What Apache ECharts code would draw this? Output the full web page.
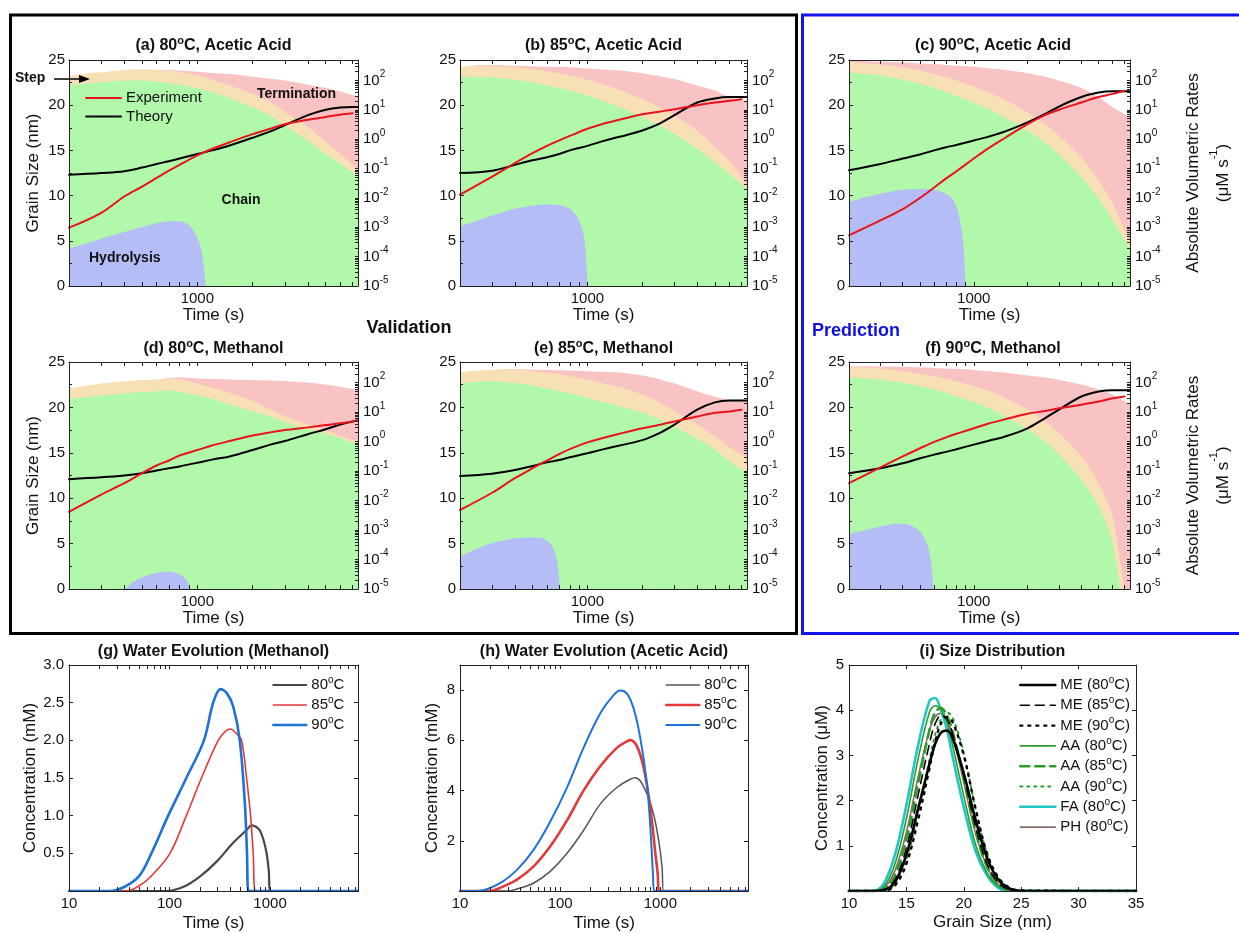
<!DOCTYPE html>
<html><head><meta charset="utf-8">
<script src="https://cdn.jsdelivr.net/npm/echarts@6/dist/echarts.min.js"></script>
<style>html,body{margin:0;padding:0;background:#fff}#c{width:1239px;height:933px}</style>
</head><body><div id="c"></div>
<script>
const FONT = '"Liberation Sans", Arial, Helvetica, sans-serif';
const C_PINK = '#f9c3c3', C_BEIGE = '#f7e0b6', C_GREEN = '#b1f8aa', C_BLUE = '#b5bdf6';
const C_RED = '#e8131b';

// ---------- time grids (s) ----------
const regionTime = [200, 250, 300, 400, 500, 600, 700, 800, 1000, 1200, 1500, 2000, 2500, 3000, 4000, 5000, 6000, 7500];
const lineTime = [200, 300, 400, 500, 600, 700, 800, 1000, 1200, 1500, 2000, 2500, 3000, 4000, 5000, 6000, 7000, 7500];

// ---------- (a) 80C acetic acid : rates as log10(uM/s) ----------
const aTerm  = [1.9, 2.1, 2.22, 2.35, 2.38, 2.37, 2.36, 2.34, 2.3, 2.26, 2.22, 2.13, 2.06, 2.0, 1.86, 1.75, 1.63, 1.46];
const aStep  = [2.17, 2.24, 2.28, 2.36, 2.37, 2.36, 2.33, 2.28, 2.17, 2.02, 1.83, 1.54, 1.26, 0.92, 0.42, -0.08, -0.5, -1.01];
const aChain = [1.85, 1.9, 1.94, 2.0, 2.0, 1.96, 1.92, 1.86, 1.75, 1.6, 1.4, 1.09, 0.8, 0.46, -0.05, -0.5, -0.84, -1.24];
const aHydT  = [200, 300, 400, 500, 600, 700, 800, 880, 950, 1030, 1080, 1120];
const aHyd   = [-3.73, -3.39, -3.16, -2.99, -2.86, -2.79, -2.79, -2.88, -3.1, -3.56, -4.24, -5.3];
const aExp    = [6.45, 8.1, 9.9, 11.0, 11.95, 12.75, 13.4, 14.45, 15.15, 15.9, 16.8, 17.4, 17.9, 18.4, 18.7, 18.95, 19.1, null];
const aTheory = [12.3, 12.5, 12.7, 13.1, 13.5, 13.8, 14.1, 14.6, 15.0, 15.55, 16.4, 17.1, 17.8, 18.9, 19.5, 19.75, 19.8, 19.8];

// ---------- (b) 85C acetic acid ----------
const bTerm  = [2.3, 2.53, 2.53, 2.5, 2.48, 2.47, 2.46, 2.45, 2.41, 2.38, 2.34, 2.25, 2.15, 2.05, 1.83, 1.66, 1.43, 1.3];
const bStep  = [2.45, 2.5, 2.5, 2.45, 2.39, 2.31, 2.24, 2.17, 2.03, 1.88, 1.68, 1.37, 1.07, 0.8, 0.29, -0.27, -0.73, -1.55];
const bChain = [2.11, 2.13, 2.11, 2.03, 1.94, 1.83, 1.75, 1.66, 1.49, 1.32, 1.09, 0.75, 0.46, 0.18, -0.33, -0.78, -1.18, -1.69];
const bHydT  = [200, 250, 300, 400, 500, 600, 700, 800, 880, 950, 985, 1005];
const bHyd   = [-2.97, -2.77, -2.6, -2.37, -2.26, -2.22, -2.25, -2.37, -2.65, -3.22, -4.13, -5.3];
const bExp    = [10.1, 12.1, 13.6, 14.7, 15.5, 16.1, 16.6, 17.4, 17.9, 18.4, 19.0, 19.3, 19.55, 20.0, 20.3, 20.5, 20.65, null];
const bTheory = [12.5, 12.75, 13.4, 13.9, 14.25, 14.6, 15.0, 15.5, 16.0, 16.5, 17.2, 18.0, 18.9, 20.3, 20.75, 20.9, 20.9, 20.9];

// ---------- (c) 90C acetic acid ----------
const cTerm  = [2.68, 2.66, 2.64, 2.62, 2.58, 2.56, 2.53, 2.5, 2.47, 2.42, 2.36, 2.25, 2.13, 2.0, 1.75, 1.43, 1.09, 0.75];
const cStep  = [2.64, 2.58, 2.54, 2.45, 2.34, 2.22, 2.11, 2.0, 1.79, 1.6, 1.34, 0.92, 0.52, 0.12, -0.61, -1.4, -2.2, -3.5];
const cChain = [2.28, 2.22, 2.17, 2.03, 1.88, 1.75, 1.6, 1.47, 1.24, 1.03, 0.73, 0.29, -0.1, -0.52, -1.29, -2.03, -2.77, -3.73];
const cHydT  = [200, 250, 300, 400, 500, 600, 700, 770, 820, 870, 905];
const cHyd   = [-2.14, -1.97, -1.86, -1.72, -1.7, -1.72, -1.86, -2.09, -2.54, -3.45, -5.3];
const cExp    = [5.6, 7.25, 8.5, 9.75, 10.9, 11.9, 12.7, 14.1, 15.2, 16.4, 17.9, 18.9, 19.5, 20.3, 20.9, 21.25, 21.6, null];
const cTheory = [12.8, 13.5, 14.1, 14.55, 15.0, 15.35, 15.6, 16.1, 16.5, 17.1, 18.1, 19.0, 19.85, 20.9, 21.4, 21.55, 21.55, 21.55];

// ---------- (d) 80C methanol ----------
const dTerm  = [1.5, 1.6, 1.7, 1.85, 1.98, 2.08, 2.16, 2.17, 2.14, 2.12, 2.11, 2.09, 2.07, 2.05, 2.0, 1.94, 1.86, 1.75];
const dStep  = [1.8, 1.9, 1.97, 2.05, 2.09, 2.11, 2.14, 2.12, 1.97, 1.83, 1.66, 1.37, 1.09, 0.86, 0.58, 0.39, 0.18, 0.01];
const dChain = [1.45, 1.51, 1.56, 1.63, 1.68, 1.71, 1.73, 1.69, 1.56, 1.45, 1.26, 1.03, 0.84, 0.66, 0.43, 0.27, 0.12, -0.1];
const dHydT  = [390, 450, 550, 680, 800, 870, 910, 930];
const dHyd   = [-5.1, -4.75, -4.52, -4.41, -4.5, -4.69, -4.95, -5.3];
const dExp    = [8.5, 10.4, 11.65, 12.75, 13.6, 14.15, 14.7, 15.3, 15.8, 16.3, 16.9, 17.25, 17.5, 17.8, 18.05, 18.25, 18.45, 18.55];
const dTheory = [12.1, 12.3, 12.5, 12.75, 13.05, 13.3, 13.5, 13.9, 14.25, 14.6, 15.3, 15.9, 16.3, 17.05, 17.6, 18.1, 18.45, 18.6];

// ---------- (e) 85C methanol ----------
const eTerm  = [2.2, 2.35, 2.42, 2.46, 2.44, 2.43, 2.42, 2.41, 2.39, 2.37, 2.34, 2.24, 2.11, 1.97, 1.71, 1.52, 1.41, 1.37];
const eStep  = [2.34, 2.41, 2.44, 2.45, 2.39, 2.34, 2.29, 2.22, 2.11, 1.99, 1.85, 1.6, 1.32, 1.03, 0.58, 0.18, -0.18, -0.56];
const eChain = [1.97, 2.03, 2.05, 1.99, 1.9, 1.8, 1.72, 1.63, 1.49, 1.35, 1.2, 0.98, 0.75, 0.5, 0.1, -0.27, -0.67, -1.07];
const eHydT  = [200, 250, 300, 400, 500, 560, 610, 650, 685, 712];
const eHyd   = [-3.9, -3.62, -3.45, -3.28, -3.25, -3.27, -3.39, -3.62, -4.13, -5.3];
const eExp    = [8.7, 10.6, 12.2, 13.3, 14.15, 14.85, 15.4, 16.15, 16.6, 17.1, 17.7, 18.1, 18.45, 19.0, 19.4, 19.55, 19.75, null];
const eTheory = [12.45, 12.7, 13.1, 13.55, 13.95, 14.2, 14.5, 14.95, 15.35, 15.8, 16.4, 17.2, 18.1, 19.75, 20.55, 20.75, 20.75, 20.75];

// ---------- (f) 90C methanol ----------
const fTerm  = [2.56, 2.56, 2.55, 2.54, 2.52, 2.5, 2.48, 2.47, 2.43, 2.39, 2.34, 2.24, 2.17, 2.09, 1.94, 1.77, 1.6, 1.26];
const fStep  = [2.54, 2.51, 2.47, 2.39, 2.3, 2.22, 2.13, 2.05, 1.88, 1.73, 1.49, 1.09, 0.69, 0.29, -0.5, -1.41, -2.54, -6.5];
const fChain = [2.17, 2.13, 2.09, 2.0, 1.88, 1.77, 1.66, 1.54, 1.34, 1.15, 0.86, 0.43, 0.01, -0.44, -1.29, -2.2, -3.45, -7.5];
const fHydT  = [200, 250, 300, 350, 400, 450, 500, 545, 575, 600];
const fHyd   = [-3.13, -2.99, -2.88, -2.8, -2.79, -2.86, -3.05, -3.45, -4.01, -5.3];
const fExp    = [11.65, 13.4, 14.6, 15.5, 16.2, 16.7, 17.1, 17.7, 18.2, 18.7, 19.3, 19.6, 19.9, 20.3, 20.65, 21.0, 21.2, null];
const fTheory = [12.75, 13.3, 13.85, 14.4, 14.8, 15.1, 15.4, 15.9, 16.3, 16.8, 17.7, 18.8, 19.75, 21.2, 21.75, 21.9, 21.9, 21.9];

// ---------- (g) water evolution, methanol (mM) ----------
const g80T = [10, 93, 140, 200, 294, 430, 585, 657, 730, 795, 860, 925, 970, 1010, 7500];
const g80V = [0, 0, 0.06, 0.19, 0.39, 0.64, 0.81, 0.87, 0.85, 0.8, 0.68, 0.5, 0.28, 0, 0];
const g85T = [10, 37, 50, 66, 101, 147, 208, 305, 360, 405, 470, 522, 584, 640, 680, 720, 7500];
const g85V = [0, 0, 0.07, 0.2, 0.5, 1.0, 1.5, 2.0, 2.12, 2.15, 2.08, 2.0, 1.5, 1.0, 0.5, 0, 0];
const g90T = [10, 25, 35, 50, 66, 97, 147, 220, 272, 322, 370, 430, 500, 564, 590, 612, 7500];
const g90V = [0, 0, 0.05, 0.2, 0.5, 1.0, 1.5, 2.0, 2.5, 2.68, 2.63, 2.45, 2.0, 1.12, 0.5, 0, 0];

// ---------- (h) water evolution, acetic acid (mM) ----------
const h80T = [10, 30, 37, 54, 79, 117, 171, 251, 368, 500, 560, 631, 736, 855, 962, 1040, 1080, 7500];
const h80V = [0, 0, 0.08, 0.31, 0.77, 1.5, 2.41, 3.46, 4.12, 4.45, 4.51, 4.38, 3.86, 3.07, 2.02, 0.97, 0, 0];
const h85T = [10, 20, 25, 37, 54, 79, 117, 171, 251, 368, 464, 500, 585, 681, 794, 892, 940, 975, 7500];
const h85V = [0, 0, 0.12, 0.45, 0.97, 1.76, 2.81, 4.0, 4.97, 5.7, 5.96, 6.01, 5.76, 4.91, 3.33, 1.5, 0.71, 0, 0];
const h90T = [10, 15, 25, 37, 54, 79, 117, 171, 251, 342, 398, 464, 541, 631, 736, 794, 843, 869, 7500];
const h90V = [0, 0, 0.31, 0.84, 1.63, 2.74, 4.12, 5.7, 7.07, 7.8, 7.98, 7.86, 7.27, 6.09, 4.25, 2.55, 0.71, 0, 0];

// ---------- (i) size distribution (uM) ----------
const sizeX = [10, 12, 13, 14, 15, 16, 17, 17.5, 18, 18.5, 19, 20, 21, 22, 23, 24, 25, 35];
const me80 = [0, 0, 0.02, 0.2, 0.8, 1.8, 2.8, 3.25, 3.5, 3.55, 3.4, 2.6, 1.6, 0.75, 0.25, 0.05, 0, 0];
const me85 = [0, 0, 0.02, 0.25, 0.95, 2.1, 3.25, 3.7, 3.88, 3.82, 3.5, 2.55, 1.45, 0.62, 0.18, 0.03, 0, 0];
const me90 = [0, 0, 0, 0.12, 0.6, 1.55, 2.7, 3.3, 3.7, 3.85, 3.75, 3.0, 1.85, 0.85, 0.3, 0.07, 0.01, 0];
const aa80 = [0, 0, 0.08, 0.6, 1.6, 2.9, 3.95, 4.1, 4.02, 3.75, 3.25, 2.1, 1.05, 0.42, 0.1, 0.01, 0, 0];
const aa85 = [0, 0, 0.03, 0.35, 1.15, 2.35, 3.55, 3.95, 4.05, 3.9, 3.55, 2.5, 1.35, 0.55, 0.15, 0.02, 0, 0];
const aa90 = [0, 0, 0.01, 0.15, 0.7, 1.7, 2.9, 3.45, 3.8, 3.95, 3.85, 3.05, 1.85, 0.85, 0.3, 0.06, 0.01, 0];
const fa80 = [0, 0, 0.15, 0.8, 1.9, 3.2, 4.2, 4.27, 4.0, 3.6, 3.0, 1.85, 0.9, 0.35, 0.07, 0, 0, 0];
const ph80 = [0, 0, 0.05, 0.45, 1.3, 2.5, 3.55, 3.85, 3.93, 3.8, 3.45, 2.4, 1.3, 0.55, 0.15, 0.02, 0, 0];

// ---------- tick values ----------
const timeTickMarks = [300, 400, 500, 600, 700, 800, 900, 1000, 2000, 3000, 4000, 5000, 6000, 7000];
const timeLabels = [1000];
const waterTickMarks = [20, 30, 40, 50, 60, 70, 80, 90, 100, 200, 300, 400, 500, 600, 700, 800, 900, 1000, 2000, 3000, 4000, 5000, 6000, 7000];
const waterLabels = [10, 100, 1000];
const rateExponents = [-5, -4, -3, -2, -1, 0, 1, 2];

// ---------- labels ----------
const LBL = {
  aExp: 'Experiment', aTheory: 'Theory',
  g80: '80{s|o}C', g85: '85{s|o}C', g90: '90{s|o}C',
  h80: '80{s|o}C', h85: '85{s|o}C', h90: '90{s|o}C',
  ME80: 'ME (80{s|o}C)', ME85: 'ME (85{s|o}C)', ME90: 'ME (90{s|o}C)',
  AA80: 'AA (80{s|o}C)', AA85: 'AA (85{s|o}C)', AA90: 'AA (90{s|o}C)',
  FA80: 'FA (80{s|o}C)', PH80: 'PH (80{s|o}C)'
};

// ================= build option =================
const grid = [], xAxis = [], yAxis = [], series = [], title = [], legend = [];
const AXC = '#222', TXC = '#111';
const zip = (ts, vs) => ts.map((t, i) => [t, vs[i]]).filter(p => p[1] !== null && p[1] !== undefined);
const L10 = v => Math.log10(v);

function axLine() { return { show: true, onZero: false, lineStyle: { color: AXC, width: 1 } }; }
function tickStyle(extra) { return Object.assign({ show: true, inside: true, length: 4, lineStyle: { color: AXC, width: 1 } }, extra || {}); }
function lblStyle(extra) { return Object.assign({ fontSize: 15, color: TXC, fontFamily: FONT }, extra || {}); }
const nameStyle = () => ({ fontSize: 17, color: TXC, fontFamily: FONT });

function addLogTimeAxes(gi, lo, hi, marks, labels, nameGap) {
  const dataIdx = xAxis.length;
  xAxis.push({ type: 'log', gridIndex: gi, min: lo, max: hi, show: false });
  const base = () => ({
    type: 'value', gridIndex: gi, min: L10(lo), max: L10(hi), z: 10, splitLine: { show: false },
    axisLine: axLine(), axisTick: tickStyle({ customValues: marks.map(L10) })
  });
  xAxis.push(Object.assign(base(), {
    position: 'bottom',
    axisLabel: lblStyle({ customValues: labels.map(L10), formatter: v => String(Math.round(Math.pow(10, v))), margin: 5 }),
    name: 'Time (s)', nameLocation: 'middle', nameGap: nameGap, nameTextStyle: nameStyle()
  }));
  xAxis.push(Object.assign(base(), { position: 'top', axisLabel: { show: false } }));
  return dataIdx;
}

function titleOf(text, cx, top) {
  return {
    text: text, left: cx, top: top, textAlign: 'center', padding: 0,
    textStyle: {
      fontSize: 16, fontWeight: 'bold', color: TXC, fontFamily: FONT, lineHeight: 22,
      rich: { s: { fontSize: 11, fontWeight: 'bold', color: TXC, fontFamily: FONT, verticalAlign: 'top' } }
    }
  };
}

function areaSeries(xi, yi, ts, vs, color, z) {
  series.push({
    type: 'line', xAxisIndex: xi, yAxisIndex: yi, data: zip(ts, vs), smooth: 0.3,
    symbol: 'none', silent: true, z: z, lineStyle: { width: 0 }, areaStyle: { color: color, opacity: 1, origin: 'start' }
  });
}
function lineSeries(name, xi, yi, ts, vs, color, width, z, type) {
  series.push({
    name: name, type: 'line', xAxisIndex: xi, yAxisIndex: yi, data: zip(ts, vs), smooth: 0.35,
    symbol: 'none', z: z, lineStyle: { color: color, width: width, type: type || 'solid', cap: 'round' }, itemStyle: { color: color }
  });
}

const expTickMarks = [];
for (let n = -5; n <= 2; n++) for (let k = 1; k < 10; k++) { const v = n + L10(k); if (v <= 2.7) expTickMarks.push(v); }

const topPanels = [
  { key: 'a', g: { left: 69, top: 60, width: 289, height: 226 }, t: '(a) 80{s|o}C, Acetic Acid', tt: 35,
    term: aTerm, step: aStep, chain: aChain, hydT: aHydT, hyd: aHyd, exp: aExp, theory: aTheory, lname: true, rname: false },
  { key: 'b', g: { left: 460, top: 60, width: 287, height: 226 }, t: '(b) 85{s|o}C, Acetic Acid', tt: 35,
    term: bTerm, step: bStep, chain: bChain, hydT: bHydT, hyd: bHyd, exp: bExp, theory: bTheory, lname: false, rname: false },
  { key: 'c', g: { left: 849, top: 60, width: 288, height: 226 }, t: '(c) 90{s|o}C, Acetic Acid', tt: 35,
    term: cTerm, step: cStep, chain: cChain, hydT: cHydT, hyd: cHyd, exp: cExp, theory: cTheory, lname: false, rname: true },
  { key: 'd', g: { left: 69, top: 362, width: 289, height: 227 }, t: '(d) 80{s|o}C, Methanol', tt: 338,
    term: dTerm, step: dStep, chain: dChain, hydT: dHydT, hyd: dHyd, exp: dExp, theory: dTheory, lname: true, rname: false },
  { key: 'e', g: { left: 460, top: 362, width: 287, height: 227 }, t: '(e) 85{s|o}C, Methanol', tt: 338,
    term: eTerm, step: eStep, chain: eChain, hydT: eHydT, hyd: eHyd, exp: eExp, theory: eTheory, lname: false, rname: false },
  { key: 'f', g: { left: 849, top: 362, width: 288, height: 227 }, t: '(f) 90{s|o}C, Methanol', tt: 338,
    term: fTerm, step: fStep, chain: fChain, hydT: fHydT, hyd: fHyd, exp: fExp, theory: fTheory, lname: false, rname: true }
];

topPanels.forEach(p => {
  const gi = grid.length; grid.push(p.g);
  const xi = addLogTimeAxes(gi, 200, 7500, timeTickMarks, timeLabels, 20);
  const yl = yAxis.length;
  yAxis.push({
    type: 'value', gridIndex: gi, position: 'left', min: 0, max: 25, interval: 5, z: 10, splitLine: { show: false },
    axisLine: axLine(), axisTick: tickStyle(), minorTick: { show: true, splitNumber: 2, length: 3, lineStyle: { color: AXC } },
    axisLabel: lblStyle({ margin: 4 }),
    name: p.lname ? 'Grain Size (nm)' : '', nameLocation: 'middle', nameGap: 27, nameTextStyle: nameStyle()
  });
  const yr = yAxis.length;
  yAxis.push({
    type: 'value', gridIndex: gi, position: 'right', min: -5, max: 2.7, z: 10, splitLine: { show: false },
    axisLine: axLine(), axisTick: tickStyle({ length: 3, customValues: expTickMarks }),
    axisLabel: {
      customValues: rateExponents, margin: 5,
      formatter: v => '{b|10}{s|' + Math.round(v) + '}',
      rich: { b: { fontSize: 15, color: TXC, fontFamily: FONT, lineHeight: 22 }, s: { fontSize: 10, color: TXC, fontFamily: FONT, verticalAlign: 'top' } }
    },
    name: p.rname ? 'Absolute Volumetric Rates\n{n|(μM s}{s|-1}{n|)}' : '', nameLocation: 'middle', nameRotate: 90, nameGap: 48,
    nameTextStyle: {
      fontSize: 17, color: TXC, fontFamily: FONT, lineHeight: 30,
      rich: { n: { fontSize: 17, color: TXC, fontFamily: FONT, lineHeight: 30 }, s: { fontSize: 11, color: TXC, fontFamily: FONT, verticalAlign: 'top' } }
    }
  });
  areaSeries(xi, yr, regionTime, p.term, C_PINK, 1);
  areaSeries(xi, yr, regionTime, p.step, C_BEIGE, 2);
  areaSeries(xi, yr, regionTime, p.chain, C_GREEN, 3);
  areaSeries(xi, yr, p.hydT, p.hyd, C_BLUE, 4);
  lineSeries(p.key + 'Exp', xi, yl, lineTime, p.exp, C_RED, 2, 6);
  lineSeries(p.key + 'Theory', xi, yl, lineTime, p.theory, '#000', 2, 5);
  title.push(titleOf(p.t, p.g.left + p.g.width / 2, p.tt));
});

// ---- water evolution panels ----
const waterPanels = [
  { g: { left: 69, top: 665, width: 289, height: 226 }, t: '(g) Water Evolution (Methanol)', max: 3, labels: [0.5, 1, 1.5, 2, 2.5, 3], fmt: v => v.toFixed(1),
    name: 'Concentration (mM)', ngap: 30, legLeft: 272,
    curves: [{ n: 'g80', T: g80T, V: g80V, c: '#474747', w: 2.2 }, { n: 'g85', T: g85T, V: g85V, c: '#e2393b', w: 1.6 }, { n: 'g90', T: g90T, V: g90V, c: '#1f72d6', w: 2.6 }] },
  { g: { left: 460, top: 665, width: 288, height: 226 }, t: '(h) Water Evolution (Acetic Acid)', max: 9, labels: [2, 4, 6, 8], fmt: v => String(v),
    name: 'Concentration (mM)', ngap: 19, legLeft: 665,
    curves: [{ n: 'h80', T: h80T, V: h80V, c: '#555555', w: 1.5 }, { n: 'h85', T: h85T, V: h85V, c: '#e2393b', w: 2.6 }, { n: 'h90', T: h90T, V: h90V, c: '#1f72d6', w: 2.0 }] }
];
waterPanels.forEach(p => {
  const gi = grid.length; grid.push(p.g);
  const xi = addLogTimeAxes(gi, 10, 7500, waterTickMarks, waterLabels, 24);
  const yl = yAxis.length;
  yAxis.push({
    type: 'value', gridIndex: gi, position: 'left', min: 0, max: p.max, z: 10, splitLine: { show: false },
    axisLine: axLine(), axisTick: tickStyle({ customValues: p.labels }),
    axisLabel: lblStyle({ customValues: p.labels, formatter: p.fmt, margin: 5 }),
    name: p.name, nameLocation: 'middle', nameGap: p.ngap, nameTextStyle: nameStyle()
  });
  yAxis.push({
    type: 'value', gridIndex: gi, position: 'right', min: 0, max: p.max, z: 10, splitLine: { show: false },
    axisLine: axLine(), axisTick: tickStyle({ customValues: p.labels }), axisLabel: { show: false }
  });
  p.curves.forEach((c, k) => lineSeries(c.n, xi, yl, c.T, c.V, c.c, c.w, 5 + k));
  title.push(titleOf(p.t, p.g.left + p.g.width / 2, 641));
  legend.push({
    left: p.legLeft, top: 675, orient: 'vertical', padding: 0, itemGap: 0, itemWidth: 33, itemHeight: 14,
    selectedMode: false, data: p.curves.map(c => c.n), formatter: n => LBL[n],
    itemStyle: { opacity: 0 }, lineStyle: { width: 'inherit' },
    textStyle: { fontSize: 15, color: TXC, fontFamily: FONT, lineHeight: 20, rich: { s: { fontSize: 10, color: TXC, fontFamily: FONT, verticalAlign: 'top' } } }
  });
});

// ---- size distribution panel ----
{
  const g = { left: 849, top: 665, width: 287, height: 226 };
  const gi = grid.length; grid.push(g);
  const xi = xAxis.length;
  xAxis.push({
    type: 'value', gridIndex: gi, position: 'bottom', min: 10, max: 35, interval: 5, z: 10, splitLine: { show: false },
    axisLine: axLine(), axisTick: tickStyle(), axisLabel: lblStyle({ margin: 5 }),
    name: 'Grain Size (nm)', nameLocation: 'middle', nameGap: 23, nameTextStyle: nameStyle()
  });
  xAxis.push({
    type: 'value', gridIndex: gi, position: 'top', min: 10, max: 35, interval: 5, z: 10, splitLine: { show: false },
    axisLine: axLine(), axisTick: tickStyle(), axisLabel: { show: false }
  });
  const yl = yAxis.length;
  yAxis.push({
    type: 'value', gridIndex: gi, position: 'left', min: 0, max: 5, interval: 1, z: 10, splitLine: { show: false },
    axisLine: axLine(), axisTick: tickStyle(), axisLabel: lblStyle({ margin: 5, formatter: v => (v === 0 ? '' : String(v)) }),
    name: 'Concentration (μM)', nameLocation: 'middle', nameGap: 18, nameTextStyle: nameStyle()
  });
  yAxis.push({
    type: 'value', gridIndex: gi, position: 'right', min: 0, max: 5, interval: 1, z: 10, splitLine: { show: false },
    axisLine: axLine(), axisTick: tickStyle(), axisLabel: { show: false }
  });
  const GREEN = '#2b9a2b', CYAN = '#22c6c6', BROWN = '#8b6c6c';
  lineSeries('PH80', xi, yl, sizeX, ph80, BROWN, 1.6, 5);
  lineSeries('FA80', xi, yl, sizeX, fa80, CYAN, 2.6, 5);
  lineSeries('AA90', xi, yl, sizeX, aa90, GREEN, 2.0, 6, [2, 5]);
  lineSeries('AA85', xi, yl, sizeX, aa85, GREEN, 2.6, 6, [9, 6]);
  lineSeries('AA80', xi, yl, sizeX, aa80, GREEN, 1.6, 6);
  lineSeries('ME90', xi, yl, sizeX, me90, '#000', 2.4, 7, [2, 6]);
  lineSeries('ME85', xi, yl, sizeX, me85, '#000', 1.6, 7, [9, 6]);
  lineSeries('ME80', xi, yl, sizeX, me80, '#000', 2.6, 7);
  title.push(titleOf('(i) Size Distribution', g.left + g.width / 2, 641));
  legend.push({
    left: 1019, top: 675, orient: 'vertical', padding: 0, itemGap: 0.3, itemWidth: 35, itemHeight: 14,
    selectedMode: false, data: ['ME80', 'ME85', 'ME90', 'AA80', 'AA85', 'AA90', 'FA80', 'PH80'], formatter: n => LBL[n],
    itemStyle: { opacity: 0 }, lineStyle: { width: 'inherit' },
    textStyle: { fontSize: 15, color: TXC, fontFamily: FONT, lineHeight: 20, rich: { s: { fontSize: 10, color: TXC, fontFamily: FONT, verticalAlign: 'top' } } }
  });
}

// legend of panel (a)
legend.push({
  left: 85, top: 89, orient: 'vertical', padding: 0, itemGap: 0.4, itemWidth: 35, itemHeight: 12,
  selectedMode: false, data: ['aExp', 'aTheory'], formatter: n => LBL[n],
  itemStyle: { opacity: 0 }, lineStyle: { width: 'inherit' },
  textStyle: { fontSize: 15, color: TXC, fontFamily: FONT, lineHeight: 18 }
});

const boldTxt = (text, x, y, size, color, align) => ({
  type: 'text', x: x, y: y, z: 100,
  style: { text: text, fill: color || '#111', font: 'bold ' + size + 'px ' + FONT, textAlign: align || 'left', textVerticalAlign: 'middle' }
});

const graphic = [
  { type: 'rect', z: 100, shape: { x: 10.5, y: 15, width: 786, height: 618.5 }, style: { fill: 'none', stroke: '#000', lineWidth: 3 } },
  { type: 'rect', z: 100, shape: { x: 802.5, y: 15, width: 450, height: 618.5 }, style: { fill: 'none', stroke: '#1212ee', lineWidth: 3 } },
  boldTxt('Step', 15, 78, 14),
  { type: 'line', z: 100, shape: { x1: 54, y1: 79, x2: 82, y2: 79 }, style: { stroke: '#000', lineWidth: 1.5 } },
  { type: 'polygon', z: 100, shape: { points: [[90, 79], [79, 75], [79, 83]] }, style: { fill: '#000' } },
  boldTxt('Termination', 257, 94, 14),
  boldTxt('Chain', 241, 200, 14, '#111', 'center'),
  boldTxt('Hydrolysis', 89, 258, 14),
  boldTxt('Validation', 409, 328, 18, '#111', 'center'),
  boldTxt('Prediction', 812, 331, 18, '#1010e6')
];

const chart = echarts.init(document.getElementById('c'), null, { renderer: 'canvas' });
chart.setOption({
  animation: false, backgroundColor: '#fff', textStyle: { fontFamily: FONT },
  grid: grid, xAxis: xAxis, yAxis: yAxis, series: series, title: title, legend: legend, graphic: graphic
});
</script></body></html>
